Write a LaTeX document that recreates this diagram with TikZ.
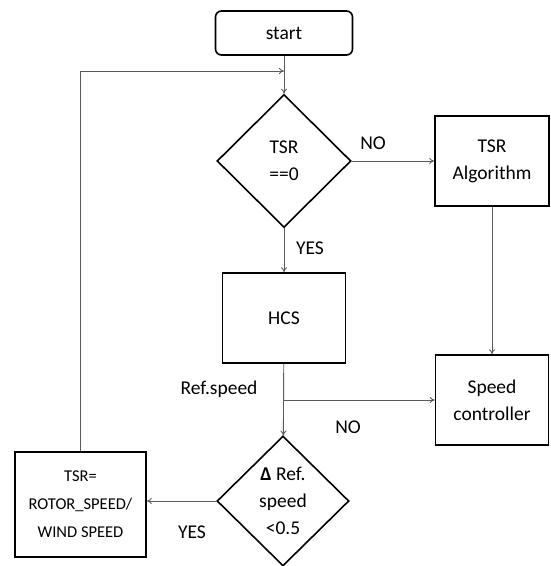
\documentclass[tikz,border=0pt]{standalone}
\usepackage{fontspec}
\setmainfont{Carlito}
\definecolor{linegray}{RGB}{90,90,90}
\usetikzlibrary{shapes.geometric,arrows.meta,positioning,calc}

\begin{document}
\begin{tikzpicture}[x=1pt, y=-1pt,
    font=\fontsize{19.5}{27}\selectfont,
    block/.style={draw, line width=1.6pt, align=center, inner sep=2pt},
    decision/.style={draw, diamond, line width=1.6pt, align=center, inner sep=0pt},
    link/.style={draw=linegray, line width=0.9pt, -{To[length=5pt,width=6pt]}},
    plain/.style={draw=linegray, line width=0.9pt}]
    \useasboundingbox (0,0) rectangle (550,566);

    % Blocks
    \node[block, rounded corners=6pt, minimum width=137, minimum height=44] (start) at (284,33) {start};
    \node[decision, minimum width=134, minimum height=133] (tsrzero) at (284,161) {TSR\\==0};
    \node[block, minimum width=114, minimum height=90] (tsralg) at (492,161) {TSR\\Algorithm};
    \node[block, minimum width=123, minimum height=90] (hcs) at (284,318) {HCS};
    \node[block, minimum width=113, minimum height=90] (speedctrl) at (492,400) {Speed\\controller};
    \node[decision, minimum width=132, minimum height=130] (deltaref) at (283,501) {\textbf{Δ} Ref.\\speed\\<0.5};
    \node[block, minimum width=131, minimum height=105, font=\fontsize{16.5}{28}\selectfont] (tsrcalc) at (80.5,504.5) {TSR=\\ROTOR\_SPEED/\\WIND SPEED};

    % Junctions
    \coordinate (loopin) at (284,71);
    \coordinate (branch) at (284,400);

    % Connectors
    \draw[link] (start) -- (tsrzero);
    \draw[link] (tsrzero) -- (tsralg);
    \draw[link] (tsrzero) -- (hcs);
    \draw[link] (tsralg) -- (speedctrl);
    \draw[link] (hcs) -- (deltaref);
    \draw[link] (branch) -- (speedctrl);
    \draw[link] (deltaref.west) -- (deltaref.west -| tsrcalc.east);
    \draw[link] (tsrcalc.north) |- (loopin);

    % Labels
    \node (no1) at (373,143) {NO};
    \node (yes1) at (310,248) {YES};
    \node (refspeed) at (219,389) {Ref.speed};
    \node (no2) at (348,427) {NO};
    \node (yes2) at (192,532) {YES};
\end{tikzpicture}
\end{document}
